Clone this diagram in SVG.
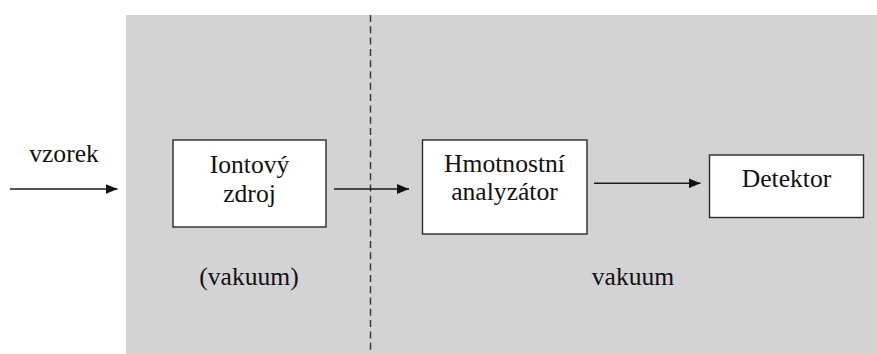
<svg xmlns="http://www.w3.org/2000/svg" width="877" height="354" viewBox="0 0 877 354">
  <style>
    .box { fill: #ffffff; stroke: #2b2b2b; stroke-width: 1.4; }
    .lbl { font-family: "Liberation Serif", "Times New Roman", serif; font-size: 25.6px; fill: #111111; text-anchor: middle; }
    .flow { stroke: #1a1a1a; stroke-width: 1.4; fill: none; marker-end: url(#head); }
    .divider { stroke: #333333; stroke-width: 1.4; stroke-dasharray: 7 4.3; fill: none; }
  </style>
  <defs>
    <marker id="head" markerUnits="userSpaceOnUse" markerWidth="12" markerHeight="10" refX="12" refY="5" orient="auto">
      <path d="M0,0 L12,5 L0,10 Z" fill="#111111"/>
    </marker>
  </defs>

  <!-- vacuum region -->
  <rect id="vacuum-area" x="126" y="15" width="751" height="339" fill="#d3d3d3"/>
  <line id="divider" class="divider" x1="370.5" y1="15" x2="370.5" y2="354"/>

  <g id="connectors">
    <line class="flow" x1="10" y1="189" x2="117.5" y2="189"/>
    <line class="flow" x1="334" y1="189" x2="409" y2="189"/>
    <line class="flow" x1="594" y1="183.3" x2="700.5" y2="183.3"/>
  </g>

  <g id="input">
    <text class="lbl" x="64" y="162">vzorek</text>
  </g>

  <g id="ion-source">
    <rect class="box" x="173" y="140" width="153" height="87"/>
    <text class="lbl" x="249.5" y="173">Iontový</text>
    <text class="lbl" x="249.5" y="202">zdroj</text>
  </g>

  <g id="mass-analyzer">
    <rect class="box" x="422.5" y="140" width="164.5" height="94"/>
    <text class="lbl" x="504.5" y="172">Hmotnostní</text>
    <text class="lbl" x="504.5" y="200">analyzátor</text>
  </g>

  <g id="detector">
    <rect class="box" x="709.5" y="155" width="154" height="62.5"/>
    <text class="lbl" x="786.5" y="187">Detektor</text>
  </g>

  <g id="region-labels">
    <text class="lbl" x="249" y="285">(vakuum)</text>
    <text class="lbl" x="633" y="285">vakuum</text>
  </g>
</svg>
